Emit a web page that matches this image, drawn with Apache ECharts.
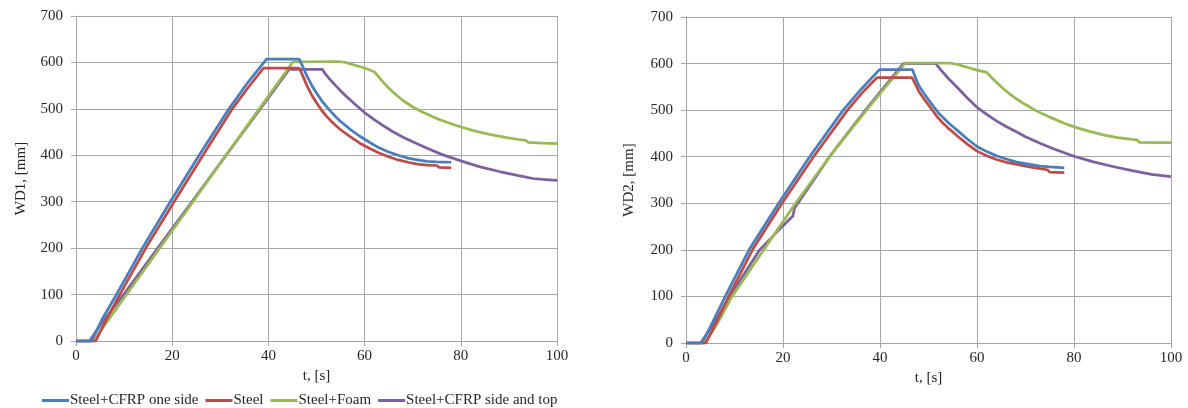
<!DOCTYPE html>
<html>
<head>
<meta charset="utf-8">
<script src="https://cdn.jsdelivr.net/npm/echarts@6/dist/echarts.min.js"></script>
<style>
  html, body { margin: 0; padding: 0; background: #fff; }
  #chart { width: 1188px; height: 408px; }
</style>
</head>
<body>
<div id="chart"></div>
<script>
// series names
const seriesNames = ["Steel+CFRP one side", "Steel", "Steel+Foam", "Steel+CFRP side and top"];
const seriesColors = ["#4a7ebb", "#be4b48", "#98b954", "#7d60a0"];
const xTicks = [0, 20, 40, 60, 80, 100];
const yTicks = [0, 100, 200, 300, 400, 500, 600, 700];

// WD1 [t, mm]
const wd1CfrpOne = [[0,0],[3.2,0],[5.5,48],[8.4,100],[13.8,200],[19.6,300],[25.6,400],[31.8,500],[35.6,555],[39.6,607],[46.4,607],
  [47.2,590],[48,571],[49,551],[50,534],[51,519],[52,506],[53,494],[54,483],[55,473],[57,456],[59,441],[61,428],[63,416],[65,407],[67,400],[69,394],[71,390],[73,387],[75,386],[78,385]];
const wd1Steel = [[0,0],[4.1,0],[6.4,48],[9.1,100],[14.5,200],[20.4,300],[26.4,400],[32.5,500],[35.8,546],[39,588],[46.4,588],
  [47.2,570],[48,550],[49,530],[50,513],[51,498],[52,485],[53,474],[54,464],[55,455],[57,440],[59,426],[61,415],[63,405],[65,397],[67,390],[69,385],[71,381],[73,379],[75,378],[75.5,374],[78,373]];
const wd1Foam = [[0,0],[3.6,0],[6.2,38],[10.5,100],[17.4,200],[24.3,300],[31.2,400],[38.1,500],[45.1,601],[54.5,602],
  [56,600],[58,594],[60,588],[62,580],[63,568],[64,556],[65,545],[66,535],[68,518],[70,504],[72,493],[75,479],[78,468],[80,461],[83,452],[86,445],[89,439],[92,434],[93.5,432],[94,428],[97,426],[100,425]];
const wd1CfrpTop = [[0,0],[2.8,0],[5.2,36],[9.9,100],[17,200],[24.1,300],[31.2,400],[38.3,500],[44.3,585],[51.2,585],
  [52,573],[53,561],[54,550],[55,539],[56,529],[58,510],[60,492],[62,477],[64,463],[66,450],[68,439],[70,429],[73,415],[76,402],[80,388],[84,375],[88,365],[92,356],[95,350],[97,348],[100,346]];

// WD2 [t, mm]
const wd2CfrpOne = [[0,0],[3.3,0],[5.5,45],[8.1,100],[13,200],[19.1,300],[25.5,400],[32.4,500],[36.2,546],[39.9,587],[46.7,587],
  [47.3,570],[48,553],[49,537],[50,522],[51,508],[52,495],[53,484],[54,474],[55,465],[56,456],[58,438],[60,422],[62,411],[64,402],[66,395],[68,389],[70,385],[73,380],[75,378],[78,376]];
const wd2Steel = [[0,0],[4.1,0],[6.3,45],[8.8,100],[13.7,200],[19.8,300],[26.3,400],[33.3,500],[36.3,537],[39.4,570],[46.6,570],
  [47.3,556],[48,540],[49,525],[50,511],[51,497],[52,483],[53,472],[54,462],[55,453],[56,444],[58,427],[60,412],[62,402],[64,394],[66,388],[68,384],[70,380],[72,376],[74.5,372],[75,367],[78,366]];
const wd2Foam = [[0,0],[3.8,0],[6.5,42],[9.5,100],[16,200],[22.6,300],[29.6,400],[37.2,500],[45.2,601],[54.5,601],
  [56,598],[58,592],[60,586],[62,581],[63,570],[64,560],[65,550],[66,541],[68,525],[70,512],[72,500],[75,485],[78,472],[80,464],[83,455],[86,447],[89,441],[92,437],[93,436],[93.5,431],[97,430],[100,430]];
const wd2CfrpTop = [[0,0],[3,0],[5.8,42],[9,100],[15.2,200],[20,252],[22,272],[22.4,290],[29.6,400],[37,500],[44.8,600],[51.5,600],
  [52.4,588],[54,569],[56,548],[58,526],[60,506],[62,491],[64,477],[66,465],[68,454],[70,443],[73,429],[76,416],[80,401],[84,389],[88,379],[92,370],[96,362],[100,357]];

const wd1Data = [wd1CfrpOne, wd1Steel, wd1Foam, wd1CfrpTop];
const wd2Data = [wd2CfrpOne, wd2Steel, wd2Foam, wd2CfrpTop];

const font = "'Liberation Serif', 'Times New Roman', serif";
const textColor = "#262626";
const gridColor = "#a6a6a6";

function xAxisFor(idx) {
  return {
    type: "value", gridIndex: idx, min: xTicks[0], max: xTicks[xTicks.length - 1], interval: 20,
    name: "t, [s]", nameLocation: "middle", nameGap: 27,
    nameTextStyle: { fontFamily: font, fontSize: 15, color: textColor },
    axisLine: { lineStyle: { color: gridColor, width: 1 } },
    axisTick: { show: true, length: 5, lineStyle: { color: gridColor } },
    axisLabel: { fontFamily: font, fontSize: 15, color: textColor, margin: 8 },
    splitLine: { show: true, lineStyle: { color: gridColor, width: 1 } }
  };
}
function yAxisFor(idx, name, gap) {
  return {
    type: "value", gridIndex: idx, min: yTicks[0], max: yTicks[yTicks.length - 1], interval: 100,
    name: name, nameLocation: "middle", nameGap: gap,
    nameTextStyle: { fontFamily: font, fontSize: 15, color: textColor },
    axisLine: { show: true, lineStyle: { color: gridColor, width: 1 } },
    axisTick: { show: true, length: 5, lineStyle: { color: gridColor } },
    axisLabel: { fontFamily: font, fontSize: 15, color: textColor, margin: 13 },
    splitLine: { show: true, lineStyle: { color: gridColor, width: 1 } }
  };
}

const series = [];
[wd1Data, wd2Data].forEach(function (set, g) {
  set.forEach(function (d, i) {
    series.push({
      name: seriesNames[i], type: "line", xAxisIndex: g, yAxisIndex: g,
      data: d, showSymbol: false, symbol: "none", smooth: false,
      lineStyle: { color: seriesColors[i], width: 2.75 },
      itemStyle: { color: seriesColors[i] },
      z: 10 - i
    });
  });
});

const option = {
  backgroundColor: "#fff",
  animation: false,
  grid: [
    { left: 76, right: 631, top: 16, bottom: 67 },
    { left: 686, right: 17, top: 17, bottom: 65 }
  ],
  xAxis: [xAxisFor(0), xAxisFor(1)],
  yAxis: [yAxisFor(0, "WD1, [mm]", 47), yAxisFor(1, "WD2, [mm]", 49)],
  legend: {
    left: 37, top: 388, itemWidth: 27, itemHeight: 3, itemGap: 7, icon: "rect",
    textStyle: { fontFamily: font, fontSize: 15, color: textColor, padding: [0, 0, 0, -4] },
    data: seriesNames
  },
  series: series
};

const myChart = echarts.init(document.getElementById("chart"));
myChart.setOption(option);
</script>
</body>
</html>
